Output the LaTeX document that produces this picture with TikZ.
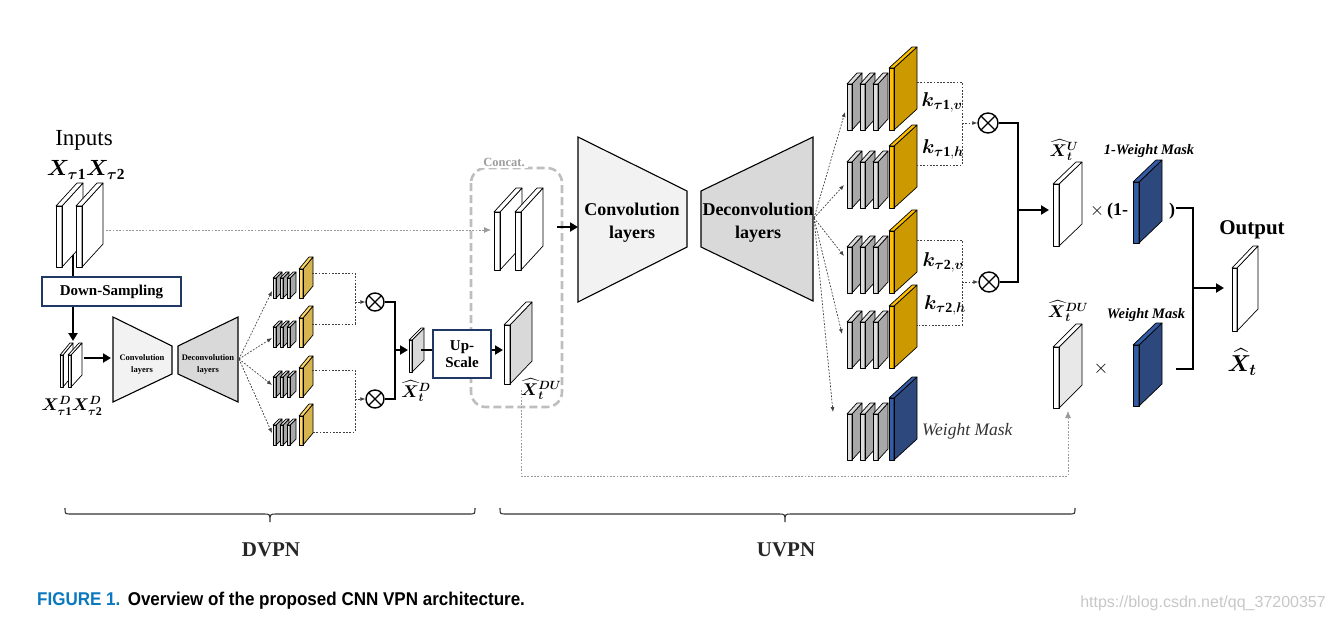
\RequirePackage{fix-cm}
\documentclass[tikz,border=0pt]{standalone}
\usepackage{amsmath,bm}
\usepackage{fontspec}
\setmainfont{Liberation Serif}
\newfontfamily\capfont{Liberation Sans}
\usetikzlibrary{arrows.meta}
\definecolor{grayF}{RGB}{222,222,222}
\definecolor{grayS}{RGB}{168,168,168}
\definecolor{ylwF}{RGB}{255,192,0}
\definecolor{ylwS}{RGB}{204,153,0}
\definecolor{ylwFs}{RGB}{255,217,102}
\definecolor{ylwSs}{RGB}{214,180,80}
\definecolor{bluF}{RGB}{52,92,165}
\definecolor{bluS}{RGB}{44,72,124}
\definecolor{navy}{RGB}{32,56,100}
\definecolor{convF}{RGB}{242,242,242}
\definecolor{deconvF}{RGB}{217,217,217}
\definecolor{dugray}{RGB}{217,217,217}
\definecolor{capblue}{RGB}{10,120,190}
\definecolor{cgray}{RGB}{190,190,190}
\newcommand\fs[1]{\fontsize{#1}{#1}\selectfont}
% slab: x, ytop, w, h, dx, dy, front colour, face colour
\newcommand\slab[8]{%
  \fill[#7] (#1,#2) rectangle ++(#3,#4);
  \filldraw[plate, fill=#8] (#1+#3,#2) -- ++(#5,-#6) -- ++(0,#4) -- ++(-#5,#6) -- cycle;
  \filldraw[plate, fill=#7] (#1,#2) -- ++(#5,-#6) -- ++(#3,0) -- ++(-#5,#6) -- cycle;
  \draw[plate] (#1,#2) rectangle ++(#3,#4);
}
\newcommand\bigstack[3]{%
  \slab{847}{#1-46}{5}{46}{10}{11}{grayF}{grayS}
  \slab{860}{#1-46}{5}{46}{10}{11}{grayF}{grayS}
  \slab{873}{#1-46}{5}{46}{10}{11}{grayF}{grayS}
  \slab{889}{#1-62}{5}{62}{23}{21}{#2}{#3}
}
\newcommand\smallstack[1]{%
  \slab{273}{#1-20}{3}{20}{6}{6}{grayF}{grayS}
  \slab{280}{#1-20}{3}{20}{6}{6}{grayF}{grayS}
  \slab{287}{#1-20}{3}{20}{6}{6}{grayF}{grayS}
  \slab{299}{#1-29}{4}{29}{10}{12}{ylwFs}{ylwSs}
}
\tikzset{
  plate/.style={draw=black, line width=0.7pt, line join=round},
  thickln/.style={line width=2.6pt},
  thickarr/.style={line width=2.6pt, -{Triangle[length=8pt,width=9pt]}},
  dotln/.style={line width=0.7pt, dash pattern=on 1.8pt off 1.5pt, draw=black!75},
  dotarr/.style={dotln, -{Latex[length=5pt,width=4pt]}},
  grayarr/.style={line width=0.8pt, dash pattern=on 1.8pt off 1.5pt, draw=black!40, -{Latex[length=7pt,width=6pt]}},
  otimes/.style={circle, draw, line width=1.4pt, inner sep=0pt, minimum size=#1,
    path picture={\draw[line width=1.2pt] (path picture bounding box.north west) -- (path picture bounding box.south east)
      (path picture bounding box.north east) -- (path picture bounding box.south west);}},
  otimes/.default=18pt,
  nbox/.style={draw=navy, line width=1.2pt, fill=white, align=center, inner sep=0pt},
  trap/.style={draw=black, line width=1.1pt, line join=miter},
  lbl/.style={inner sep=0pt},
}
\begin{document}
\begin{tikzpicture}[x=1pt,y=-1pt]
\useasboundingbox (0,0) rectangle (1333,622);

% concat frame (drawn first so the Up-Scale box covers it)
\draw[cgray, line width=2.6pt, dash pattern=on 8pt off 4pt, rounded corners=15pt] (471,168) rectangle (562,407);
\node[lbl, fill=white, inner xsep=3pt, inner ysep=2pt, font=\fs{12.5}\bfseries, text=black!38] (concat) at (504,162) {Concat.};

% ---------------- DVPN ----------------
\node[lbl, font=\fs{23}] (inputs) at (84,140) {Inputs};
\node[lbl, font=\fs{22}] (xin) at (86,170) {$\bm{X}_{\bm{\tau}\mathbf{1}}\bm{X}_{\bm{\tau}\mathbf{2}}$};

\coordinate (inbot) at (73,250);
\coordinate (dtip) at (73,341);
\coordinate (gsrc) at (106,230);
\coordinate (gdst) at (491,230);
\draw[grayarr] (gsrc) -- (gdst);
\draw[thickln] (inbot) -- (73,285);
\slab{56}{206}{6}{61}{21}{23}{white}{white}
\slab{76}{206}{6}{61}{21}{23}{white}{white}
\node[nbox, minimum width=139pt, minimum height=29pt, font=\fs{15}\bfseries] (ds) at (111.5,291.5) {Down-Sampling};
\draw[thickarr] (ds.south -| dtip) -- (dtip);

\slab{60}{355}{3}{32}{10}{12}{white}{white}
\slab{68}{355}{3}{32}{11}{12}{white}{white}
\node[lbl, font=\fs{17}] (xd) at (72,406) {$\bm{X}^{\bm{D}}_{\bm{\tau}\mathbf{1}}\bm{X}^{\bm{D}}_{\bm{\tau}\mathbf{2}}$};
\coordinate (xdr) at (84,358);
\coordinate (sconvl) at (111,358);
\draw[thickarr] (xdr) -- (sconvl);

\filldraw[trap, fill=convF] (113,317) -- (172,346) -- (172,374) -- (113,402) -- cycle;
\filldraw[trap, fill=deconvF] (178,346) -- (238,317) -- (238,402) -- (178,374) -- cycle;
\node[lbl, font=\fontsize{8.5}{12}\selectfont\bfseries, align=center] (sconv) at (142,364) {Convolution\\layers};
\node[lbl, font=\fontsize{8.5}{12}\selectfont\bfseries, align=center] (sdeconv) at (208,364) {Deconvolution\\layers};

\coordinate (dfan) at (239,359);
\coordinate (df1) at (272,291);
\coordinate (df2) at (272,338);
\coordinate (df3) at (272,385);
\coordinate (df4) at (272,433);
\foreach \t in {df1,df2,df3,df4} \draw[dotarr] (dfan) -- (\t);

\smallstack{298}
\smallstack{347}
\smallstack{397}
\smallstack{445}

\node[otimes] (m1) at (375,302) {};
\node[otimes] (m2) at (375,399) {};
\coordinate (b1a) at (312,273); \coordinate (b1b) at (312,324); \coordinate (b1x) at (355,302);
\coordinate (b2a) at (312,370); \coordinate (b2b) at (312,432); \coordinate (b2x) at (355,399);
\draw[dotln] (b1a) -| (b1x) |- (b1b);
\draw[dotln] (b2a) -| (b2x) |- (b2b);
\draw[dotarr] (b1x) -- (m1.west);
\draw[dotarr] (b2x) -- (m2.west);

\coordinate (jd) at (395,350);
\coordinate (xdl) at (408,350);
\draw[thickln] (m1.east) -| (jd) |- (m2.east);
\draw[thickarr] (jd) -- (xdl);
\slab{409}{340}{3}{32}{12}{12}{white}{dugray}
\node[lbl, font=\fs{17}] (xhd) at (416,391) {$\widehat{\bm{X}}{}^{\bm{D}}_{\bm{t}}$};

\coordinate (xdr2) at (421,350);
\node[nbox, minimum width=58pt, minimum height=48pt, font=\fontsize{15}{17}\selectfont\bfseries] (up) at (462,354) {Up-\\Scale};
\draw[thickln] (xdr2) -- (up.west |- xdr2);
\coordinate (dul) at (503,350);
\draw[thickarr] (up.east |- dul) -- (dul);

% concat plates
\slab{494}{212}{6}{58}{22}{24}{white}{white}
\slab{515}{212}{6}{58}{22}{24}{white}{white}
\slab{504}{325}{6}{59}{22}{23}{white}{dugray}
\node[lbl, font=\fs{17}] (xhdu) at (541,389) {$\widehat{\bm{X}}{}^{\bm{DU}}_{\bm{t}}$};

% dotted path to the lower right
\coordinate (dus) at (521,390);
\coordinate (duc) at (1068,476);
\coordinate (due) at (1068,411);
\draw[grayarr, line width=0.7pt] (dus) |- (duc) -- (due);

% ---------------- UVPN ----------------
\coordinate (cs) at (557,227);
\coordinate (ce) at (578,227);
\draw[thickarr] (cs) -- (ce);
\filldraw[trap, fill=convF] (578,137) -- (687,191) -- (687,247) -- (578,302) -- cycle;
\filldraw[trap, fill=deconvF] (701,191) -- (813,137) -- (813,301) -- (701,247) -- cycle;
\node[lbl, font=\fontsize{18}{23}\selectfont\bfseries, align=center] (bconv) at (632,223) {Convolution\\layers};
\node[lbl, font=\fontsize{18}{23}\selectfont\bfseries, align=center] (bdeconv) at (758,223) {Deconvolution\\layers};

\coordinate (ufan) at (814,218);
\coordinate (uf1) at (845,112);
\coordinate (uf2) at (844,185);
\coordinate (uf3) at (844,256);
\coordinate (uf4) at (842,334);
\coordinate (uf5) at (833,412);
\foreach \t in {uf1,uf2,uf3,uf4,uf5} \draw[dotarr] (ufan) -- (\t);

\bigstack{130}{ylwF}{ylwS}
\bigstack{208}{ylwF}{ylwS}
\bigstack{293}{ylwF}{ylwS}
\bigstack{368}{ylwF}{ylwS}
\bigstack{460}{bluF}{bluS}

\node[lbl, font=\fs{20}] (k1) at (942,102) {$\bm{k}_{\bm{\tau}\mathbf{1},\bm{v}}$};
\node[lbl, font=\fs{20}] (k2) at (943,149) {$\bm{k}_{\bm{\tau}\mathbf{1},\bm{h}}$};
\node[lbl, font=\fs{20}] (k3) at (943,262) {$\bm{k}_{\bm{\tau}\mathbf{2},\bm{v}}$};
\node[lbl, font=\fs{20}] (k4) at (945,305) {$\bm{k}_{\bm{\tau}\mathbf{2},\bm{h}}$};
\node[lbl, anchor=west, font=\fs{17.5}\itshape, text=black!80] (wm) at (922,431) {Weight Mask};

\node[otimes=20pt] (m3) at (988,123) {};
\node[otimes=20pt] (m4) at (989,282) {};
\coordinate (c1a) at (917,82); \coordinate (c1b) at (917,165); \coordinate (c1x) at (962,123);
\coordinate (c2a) at (917,240); \coordinate (c2b) at (917,325); \coordinate (c2x) at (962,282);
\draw[dotln] (c1a) -| (c1x) |- (c1b);
\draw[dotln] (c2a) -| (c2x) |- (c2b);
\draw[dotarr] (c1x) -- (m3.west);
\draw[dotarr] (c2x) -- (m4.west);

\coordinate (ju) at (1018,210);
\coordinate (xul) at (1049,210);
\draw[thickln] (m3.east) -| (ju) |- (m4.east);
\draw[thickarr] (ju) -- (xul);

\slab{1053}{184}{6}{62}{23}{22}{white}{white}
\node[lbl, font=\fs{17}] (xhu) at (1064,150) {$\widehat{\bm{X}}{}^{\bm{U}}_{\bm{t}}$};
\node[lbl, font=\fs{18}] (om) at (1109,211) {$\times$\,\textbf{(1-}};
\slab{1133}{182}{6}{61}{23}{22}{bluF}{bluS}
\node[lbl, font=\fs{14.5}\bfseries\itshape] (owm) at (1149,151) {1-Weight Mask};
\node[lbl, font=\fs{18}\bfseries] (rp) at (1172,211) {)};

\slab{1053}{347}{6}{61}{23}{23}{white}{black!9}
\node[lbl, font=\fs{17}] (xhdu2) at (1068,311) {$\widehat{\bm{X}}{}^{\bm{DU}}_{\bm{t}}$};
\node[lbl, font=\fs{19}] (tm) at (1101,369) {$\times$};
\slab{1133}{345}{6}{61}{23}{22}{bluF}{bluS}
\node[lbl, font=\fs{14.5}\bfseries\itshape] (wm2) at (1146,315) {Weight Mask};

\coordinate (r1) at (1176,208);
\coordinate (r2) at (1176,369);
\coordinate (jo) at (1193,288);
\coordinate (outl) at (1224,288);
\draw[thickln] (r1) -| (jo) |- (r2);
\draw[thickarr] (jo) -- (outl);

\slab{1232}{268}{5}{63}{21}{22}{white}{white}
\node[lbl, font=\fs{21}\bfseries] (outp) at (1252,230) {Output};
\node[lbl, font=\fs{23}] (xt) at (1242,362) {$\widehat{\bm{X}}_{\bm{t}}$};

% ---------------- braces ----------------
\draw[line width=1.1pt, black!80] (65,508) .. controls (65,514) .. (71,514) -- (264,514) .. controls (270,514) .. (270,522)
  .. controls (270,514) .. (276,514) -- (469,514) .. controls (475,514) .. (475,508);
\draw[line width=1.1pt, black!80] (500,508) .. controls (500,514) .. (506,514) -- (779,514) .. controls (785,514) .. (785,522)
  .. controls (785,514) .. (791,514) -- (1069,514) .. controls (1075,514) .. (1075,508);
\node[lbl, font=\fs{21}\bfseries, text=black!85] (dvpn) at (271,550) {DVPN};
\node[lbl, font=\fs{21}\bfseries, text=black!85] (uvpn) at (786,550) {UVPN};

% caption and watermark
\node[lbl, anchor=west, font=\capfont\bfseries\fs{18.5}] (cap) at (37,601)
  {\scalebox{0.92}[1]{\textcolor{capblue}{FIGURE 1.}\hspace{8pt}Overview of the proposed CNN VPN architecture.}};
\node[lbl, anchor=east, font=\capfont\fs{16}, text=black!22] (wmk) at (1326,603) {https://blog.csdn.net/qq\_37200357};
\end{tikzpicture}
\end{document}
